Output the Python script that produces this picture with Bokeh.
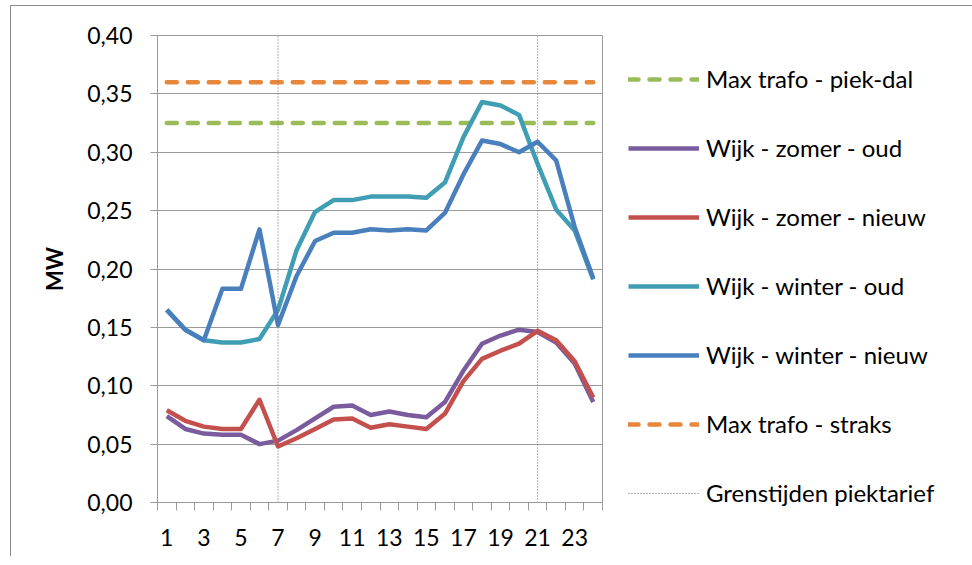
from bokeh.plotting import figure
from bokeh.models import Range1d, FixedTicker, CustomJSTickFormatter, Legend, LegendItem
from bokeh.embed import file_html
from bokeh.resources import INLINE

# ---- data ----
hours = list(range(1, 25))
x_label_ticks = [1, 3, 5, 7, 9, 11, 13, 15, 17, 19, 21, 23]
y_ticks = [0.0, 0.05, 0.10, 0.15, 0.20, 0.25, 0.30, 0.35, 0.40]

max_piek_dal = [0.325] * 24
max_straks = [0.36] * 24
zomer_oud = [0.074, 0.063, 0.059, 0.058, 0.058, 0.050, 0.053, 0.062, 0.072, 0.082, 0.083, 0.075,
             0.078, 0.075, 0.073, 0.086, 0.113, 0.136, 0.143, 0.148, 0.146, 0.137, 0.119, 0.086]
zomer_nieuw = [0.079, 0.070, 0.065, 0.063, 0.063, 0.088, 0.048, 0.055, 0.063, 0.071, 0.072, 0.064,
               0.067, 0.065, 0.063, 0.076, 0.104, 0.123, 0.130, 0.136, 0.147, 0.139, 0.121, 0.090]
winter_oud = [0.165, 0.148, 0.139, 0.137, 0.137, 0.140, 0.165, 0.216, 0.249, 0.259, 0.259, 0.262,
              0.262, 0.262, 0.261, 0.274, 0.313, 0.343, 0.340, 0.332, 0.290, 0.251, 0.233, 0.191]
winter_nieuw = [0.165, 0.148, 0.139, 0.183, 0.183, 0.234, 0.152, 0.194, 0.224, 0.231, 0.231, 0.234,
                0.233, 0.234, 0.233, 0.248, 0.281, 0.310, 0.307, 0.300, 0.309, 0.293, 0.236, 0.192]
grens_uren = [7, 21]
grens_bottom = [0.0, 0.0]
grens_top = [0.40, 0.40]

FONT = "Lato"
GRID = "#9a9a9a"

p = figure(frame_width=445, frame_height=467, output_backend="svg", toolbar_location=None,
           x_range=Range1d(0.5, 24.5), y_range=Range1d(0, 0.40),
           min_border_left=146, min_border_top=29, min_border_bottom=54, min_border_right=0)
p.styles = {"margin-left": "10px", "margin-top": "5px",
            "border-left": "1px solid #8c8c8c", "border-top": "1px solid #8c8c8c"}

p.outline_line_color = GRID
p.xgrid.visible = False
p.ygrid.ticker = FixedTicker(ticks=y_ticks)
p.ygrid.grid_line_color = GRID

# axes
p.xaxis.ticker = FixedTicker(ticks=x_label_ticks, minor_ticks=[h - 0.5 for h in hours] + [24.5])
p.xaxis.major_tick_out = 0
p.xaxis.major_tick_in = 0
p.xaxis.minor_tick_out = 8
p.xaxis.minor_tick_in = 0
p.xaxis.major_label_standoff = 18
p.yaxis.ticker = FixedTicker(ticks=y_ticks)
p.yaxis.minor_tick_out = 0
p.yaxis.minor_tick_in = 0
p.yaxis.major_tick_out = 7
p.yaxis.major_tick_in = 0
p.yaxis.major_label_standoff = 18
p.yaxis.formatter = CustomJSTickFormatter(code="return tick.toFixed(2).replace('.', ',');")
p.yaxis.axis_label = "MW"
p.yaxis.axis_label_text_font = FONT
p.yaxis.axis_label_text_font_style = "bold"
p.yaxis.axis_label_text_font_size = "22px"
p.yaxis.axis_label_text_color = "#000000"
p.yaxis.axis_label_standoff = 16
for ax in (p.xaxis, p.yaxis):
    ax.axis_line_color = GRID
    ax.major_tick_line_color = GRID
    ax.minor_tick_line_color = GRID
    ax.major_label_text_font = FONT
    ax.major_label_text_font_size = "23px"
    ax.major_label_text_color = "#000000"

LW = 4.5
r_green = p.line(hours, max_piek_dal, line_color="#9BBB59", line_width=LW, line_dash="10 11",
                 line_cap="round")
r_orange = p.line(hours, max_straks, line_color="#E8863A", line_width=LW, line_dash="10 11",
                  line_cap="round")
r_purple = p.line(hours, zomer_oud, line_color="#7A5C9E", line_width=LW, line_join="round")
r_red = p.line(hours, zomer_nieuw, line_color="#C4504D", line_width=LW, line_join="round")
r_teal = p.line(hours, winter_oud, line_color="#3F9DB4", line_width=LW, line_join="round")
r_blue = p.line(hours, winter_nieuw, line_color="#4A7FBE", line_width=LW, line_join="round")
r_grens = p.segment(x0=grens_uren, x1=grens_uren, y0=grens_bottom, y1=grens_top,
                    line_color="#666666", line_width=1, line_dash="1 2")

legend = Legend(items=[
    LegendItem(label="Max trafo - piek-dal", renderers=[r_green]),
    LegendItem(label="Wijk - zomer - oud", renderers=[r_purple]),
    LegendItem(label="Wijk - zomer - nieuw", renderers=[r_red]),
    LegendItem(label="Wijk - winter - oud", renderers=[r_teal]),
    LegendItem(label="Wijk - winter - nieuw", renderers=[r_blue]),
    LegendItem(label="Max trafo - straks", renderers=[r_orange]),
    LegendItem(label="Grenstijden piektarief", renderers=[r_grens]),
], location=(26, -5))
legend.margin = 0
legend.padding = 0
legend.spacing = 40
legend.label_height = 26
legend.glyph_height = 26
legend.glyph_width = 71
legend.label_standoff = 7
legend.label_text_font = FONT
legend.label_text_font_size = "24px"
legend.label_text_color = "#000000"
legend.border_line_color = None
legend.background_fill_alpha = 0
p.add_layout(legend, "right")

open("out.html", "w").write(file_html(p, INLINE))
